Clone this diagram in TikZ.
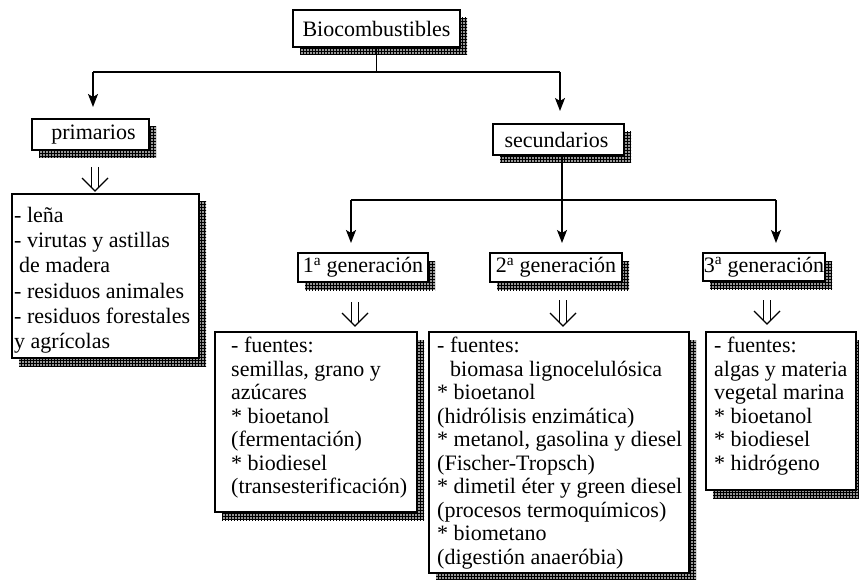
\documentclass[tikz,border=0pt]{standalone}
\usepackage{fontspec}
\setmainfont{Liberation Serif}
\usetikzlibrary{arrows.meta,calc}
\definecolor{shadowgray}{RGB}{150,150,150}
\begin{document}
\begin{tikzpicture}[x=1pt,y=-1pt,
  box/.style={draw,line width=1.4pt,fill=white,inner sep=0pt,outer sep=0pt,anchor=north west},
  hatch/.style={draw=black,line width=0.35pt},
  lbl/.style={font=\fontsize{22}{23.4}\selectfont,inner sep=0pt},
  txt/.style={font=\fontsize{22}{23.5}\selectfont,inner sep=0pt,anchor=north west,align=left},
  ln/.style={line width=1.4pt},
  arr/.style={line width=1.4pt,-{Stealth[length=13pt,width=10pt,inset=3pt]}},
  dbl/.style={line width=1.1pt}]
\useasboundingbox (0,0) rectangle (859,580);
\newcommand\dblarrow[2]{%
  \draw[dbl] ($(#1)+(-3.5,0)$) -- ($(#2)+(-3.5,-3.5)$);
  \draw[dbl] ($(#1)+(3.5,0)$) -- ($(#2)+(3.5,-3.5)$);
  \draw[dbl] ($(#2)+(-13,-13)$) -- (#2) -- ($(#2)+(13,-13)$);}
% hatched shadow, offset 7 right / 8 down
\newcommand\boxshadow[4]{% x y w h
  \begin{scope}
  \clip (#1+7,#2+8) rectangle (#1+#3+7,#2+#4+8);
  \fill[shadowgray] (#1+7,#2+8) rectangle (#1+#3+7,#2+#4+8);
  \draw[hatch] (#1+6,#2+7) grid[step=3pt] (#1+#3+8,#2+#4+9);
  \end{scope}}

% shadows first
\boxshadow{293}{10}{167}{37}
\boxshadow{32}{119}{117}{31}
\boxshadow{493}{124}{131}{31}
\boxshadow{12}{194}{187}{164}
\boxshadow{298}{253}{130}{29}
\boxshadow{490}{253}{132}{29}
\boxshadow{703}{253}{122}{28}
\boxshadow{215}{332}{202}{180}
\boxshadow{429}{332}{260}{241}
\boxshadow{706}{332}{150}{158}

% boxes
\node[box,minimum width=167pt,minimum height=37pt] (bio) at (293,10) {};
\node[box,minimum width=117pt,minimum height=31pt] (prim) at (32,119) {};
\node[box,minimum width=131pt,minimum height=31pt] (sec) at (493,124) {};
\node[box,minimum width=187pt,minimum height=164pt] (lena) at (12,194) {};
\node[box,minimum width=130pt,minimum height=29pt] (g1) at (298,253) {};
\node[box,minimum width=132pt,minimum height=29pt] (g2) at (490,253) {};
\node[box,minimum width=122pt,minimum height=28pt] (g3) at (703,253) {};
\node[box,minimum width=202pt,minimum height=180pt] (b1) at (215,332) {};
\node[box,minimum width=260pt,minimum height=241pt] (b2) at (429,332) {};
\node[box,minimum width=150pt,minimum height=158pt] (b3) at (706,332) {};

% labels
\node[lbl] (tbio) at (bio.center) {Biocombustibles};
\node[lbl] (tprim) at ($(prim.center)+(3,0)$) {primarios};
\node[lbl] (tsec) at ($(sec.center)+(-2,0)$) {secundarios};
\node[lbl] (tg1) at (g1.center) {1\textsuperscript{a} generación};
\node[lbl] (tg2) at (g2.center) {2\textsuperscript{a} generación};
\node[lbl] (tg3) at (g3.center) {3\textsuperscript{a} generación};

\node[txt,font=\fontsize{22}{25.2}\selectfont] (tl) at (14,207)
  {- leña\\- virutas y astillas\\\hspace*{5pt}de madera\\- residuos animales\\- residuos forestales\\y agrícolas};
\node[txt] (t1) at (231,337)
  {- fuentes:\\semillas, grano y\\azúcares\\* bioetanol\\(fermentación)\\* biodiesel\\(transesterificación)};
\node[txt] (t2) at (437,337)
  {- fuentes:\\\hspace*{13pt}biomasa lignocelulósica\\* bioetanol\\(hidrólisis enzimática)\\* metanol, gasolina y diesel\\(Fischer-Tropsch)\\* dimetil éter y green diesel\\(procesos termoquímicos)\\* biometano\\(digestión anaeróbia)};
\node[txt] (t3) at (714,337)
  {- fuentes:\\algas y materia\\vegetal marina\\* bioetanol\\* biodiesel\\* hidrógeno};

% level 1 connectors
\coordinate (hL) at (93,72);
\coordinate (hR) at (560,72);
\coordinate (tP) at (93,107);
\coordinate (tS) at (560,111);
\draw[ln] (bio.south) -- (bio.south |- hL);
\draw[ln] (hL) -- (hR);
\draw[arr] (hL) -- (tP);
\draw[arr] (hR) -- (tS);

% level 2 connectors
\coordinate (v2) at (562,200);
\coordinate (h1) at (351,200);
\coordinate (h3) at (776,200);
\coordinate (a1) at (351,243);
\coordinate (a2) at (562,243);
\coordinate (a3) at (776,243);
\draw[ln] (h1) -- (h3);
\draw[arr] (sec.south -| v2) -- (a2);
\draw[arr] (h1) -- (a1);
\draw[arr] (h3) -- (a3);

% double arrows
\coordinate (dPt) at (95,167); \coordinate (dPb) at (95,191);
\coordinate (d1t) at (355,302); \coordinate (d1b) at (355,326);
\coordinate (d2t) at (563,300); \coordinate (d2b) at (563,326);
\coordinate (d3t) at (767,300); \coordinate (d3b) at (767,324);
\dblarrow{dPt}{dPb}
\dblarrow{d1t}{d1b}
\dblarrow{d2t}{d2b}
\dblarrow{d3t}{d3b}
\end{tikzpicture}
\end{document}
